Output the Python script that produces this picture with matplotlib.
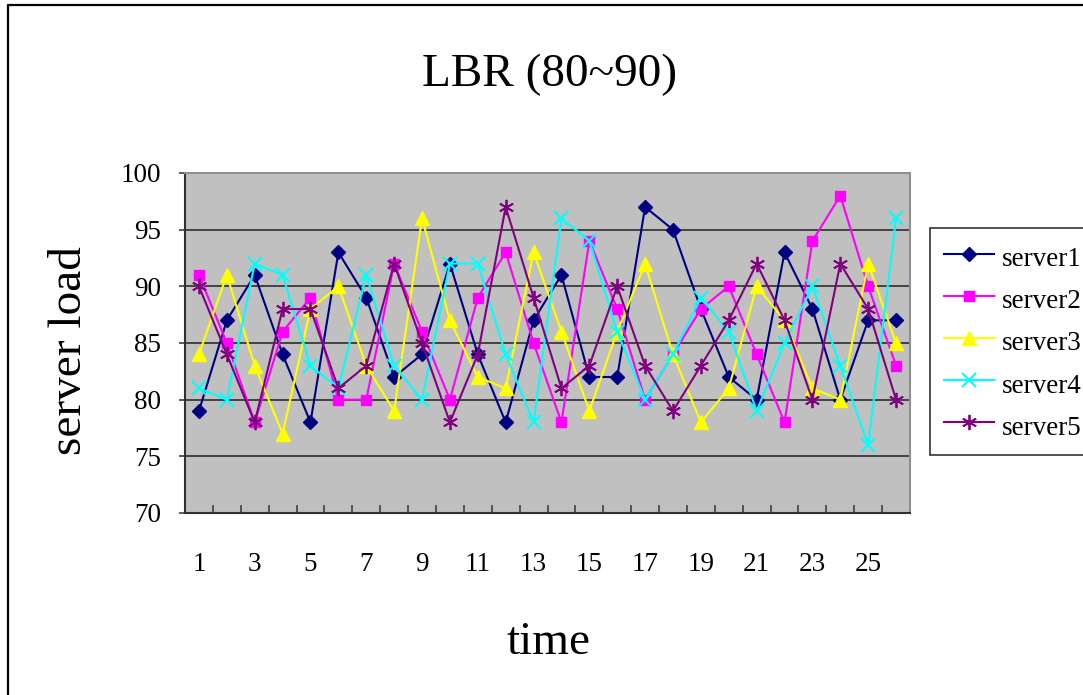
import numpy as np
import matplotlib
matplotlib.use("Agg")
import matplotlib.pyplot as plt
from matplotlib.lines import Line2D

# data
time = list(range(1, 27))
server1 = [79, 87, 91, 84, 78, 93, 89, 82, 84, 92, 84, 78, 87,
           91, 82, 82, 97, 95, 88, 82, 80, 93, 88, 80, 87, 87]
server2 = [91, 85, 78, 86, 89, 80, 80, 92, 86, 80, 89, 93, 85,
           78, 94, 88, 80, 84, 88, 90, 84, 78, 94, 98, 90, 83]
server3 = [84, 91, 83, 77, 88, 90, 83, 79, 96, 87, 82, 81, 93,
           86, 79, 86, 92, 84, 78, 81, 90, 87, 81, 80, 92, 85]
server4 = [81, 80, 92, 91, 83, 81, 91, 83, 80, 92, 92, 84, 78,
           96, 94, 86, 80, 84, 89, 86, 79, 85, 90, 83, 76, 96]
server5 = [90, 84, 78, 88, 88, 81, 83, 92, 85, 78, 84, 97, 89,
           81, 83, 90, 83, 79, 83, 87, 92, 87, 80, 92, 88, 80]
labels = ["server1", "server2", "server3", "server4", "server5"]
yticks = [70, 75, 80, 85, 90, 95, 100]
xticklabels = [1, 3, 5, 7, 9, 11, 13, 15, 17, 19, 21, 23, 25]

plt.rcParams['font.family'] = ['Liberation Serif', 'DejaVu Serif']

W, H = 1083, 695
fig = plt.figure(figsize=(W / 100, H / 100), dpi=100)
fig.patch.set_facecolor("white")

# outer chart-area border (only left and top are visible)
fig.add_artist(Line2D([8 / W, 8 / W, 1.0], [0.0, 1 - 5 / H, 1 - 5 / H],
                      transform=fig.transFigure, color="black", lw=1.6))

ax = fig.add_axes([185 / W, 1 - 513 / H, (910 - 185) / W, (513 - 173) / H])
ax.set_facecolor("#C0C0C0")

styles = [
    dict(color="#000080", marker="D", ms=7.5),
    dict(color="#FF00FF", marker="s", ms=7.5),
    dict(color="#FFFF00", marker="^", ms=10),
    dict(color="#00FFFF", marker="x", ms=9.5, mew=1.5),
    dict(color="#800080", marker=(6, 2, 0), ms=11, mew=1.3),
]
series = [server1, server2, server3, server4, server5]
for vals, lab, st in zip(series, labels, styles):
    ax.plot(time, vals, label=lab, lw=1.5, **st)

ax.set_xlim(0.5, 26.5)
ax.set_ylim(70, 100)
ax.set_yticks(yticks)
ax.set_xticks(xticklabels)
ax.set_xticks(np.arange(0.5, 27, 1), minor=True)

ax.grid(axis="y", color="#202020", lw=1.1)
ax.set_axisbelow(True)

ax.tick_params(axis="y", direction="out", length=4, width=1.2,
               labelsize=19.5, pad=13, color="#404040")
ax.tick_params(axis="x", which="major", length=0, labelsize=19.5, pad=28)
ax.tick_params(axis="x", which="minor", direction="in", length=6,
               width=1.2, color="#404040")

for side in ["left", "bottom"]:
    ax.spines[side].set_color("#303030")
    ax.spines[side].set_linewidth(1.5)
for side in ["top", "right"]:
    ax.spines[side].set_color("#909090")
    ax.spines[side].set_linewidth(1.5)

fig.text(550 / W, 1 - 75 / H, "LBR (80~90)", fontsize=34,
         ha="center", va="center")
fig.text(548 / W, 1 - 654 / H, "time", fontsize=34,
         ha="center", va="baseline")
fig.text(70 / W, 1 - 351 / H, "server load", fontsize=34,
         rotation=90, ha="center", va="center")

# taller rows so the box spans like the original
leg = fig.legend(loc="upper left", bbox_to_anchor=(930 / W, 1 - 228 / H),
                 fontsize=19.5, frameon=True, fancybox=False,
                 edgecolor="black", borderpad=0.5, labelspacing=0.4,
                 handleheight=1.4, handlelength=1.85, handletextpad=0.3,
                 borderaxespad=0)
leg.get_frame().set_linewidth(1.2)

fig.savefig("out.png", dpi=100)
